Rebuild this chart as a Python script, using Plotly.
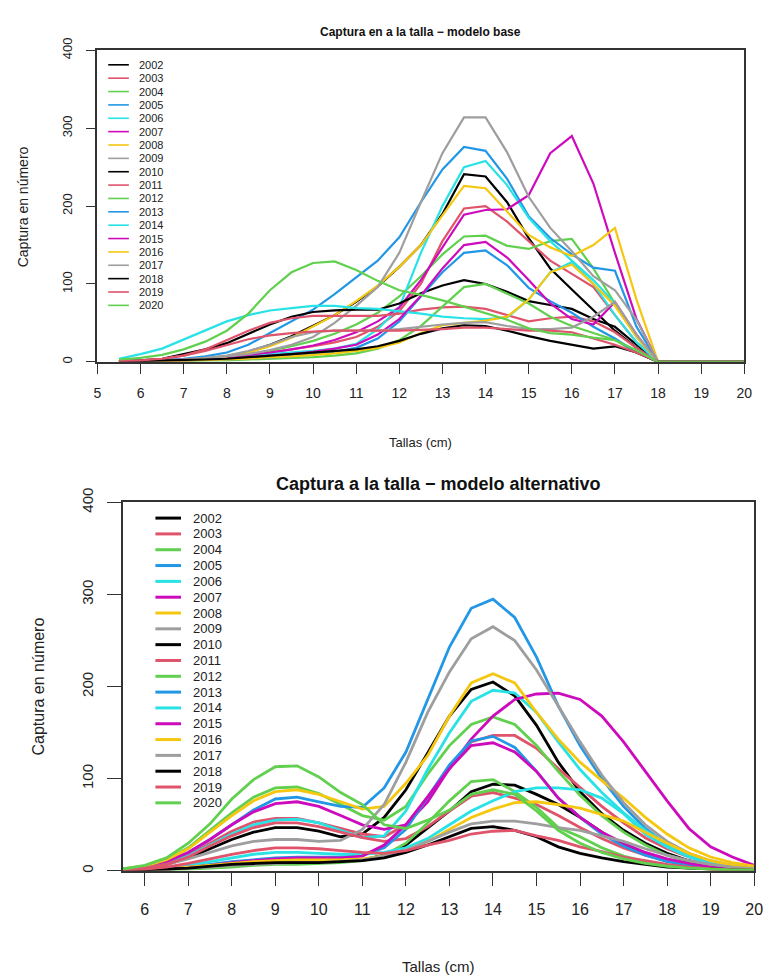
import plotly.graph_objects as go

# ---------------------------------------------------------------------------
# Data: catch-at-length by year (tallas in cm, 0.5 cm bins from 5.5 to 20)
# ---------------------------------------------------------------------------
tallas = [5.5 + 0.5 * i for i in range(30)]
years = list(range(2002, 2021))

# modelo base
base_2002 = [0.5, 1, 1.5, 2, 4, 7, 13, 22, 33, 46, 60, 77, 97, 122, 150, 190, 241, 238, 205, 159, 120, 93, 67, 40, 18, 0, 0, 0, 0, 0]
base_2003 = [1, 1, 2, 3, 4, 6, 9, 12, 16, 20, 25, 32, 45, 65, 100, 155, 197, 200, 180, 155, 130, 113, 96, 60, 25, 0, 0, 0, 0, 0]
base_2004 = [1, 1, 2, 3, 5, 7, 10, 14, 20, 27, 36, 48, 63, 84, 110, 138, 161, 162, 149, 145, 155, 158, 120, 75, 32, 0, 0, 0, 0, 0]
base_2005 = [1, 1.5, 2.5, 4, 7, 12, 22, 37, 52, 67, 87, 108, 130, 160, 205, 247, 276, 271, 235, 187, 159, 138, 121, 117, 45, 0, 0, 0, 0, 0]
base_2006 = [1, 1, 2, 3, 4, 6, 8, 10, 12, 14, 17, 23, 42, 70, 140, 200, 250, 258, 227, 185, 155, 130, 105, 75, 32, 0, 0, 0, 0, 0]
base_2007 = [1, 1, 2, 3, 4, 6, 9, 12, 16, 21, 28, 38, 52, 70, 105, 147, 189, 195, 196, 214, 268, 290, 229, 140, 55, 0, 0, 0, 0, 0]
base_2008 = [0.5, 1, 1.5, 2, 4, 7, 12, 20, 31, 45, 60, 78, 98, 122, 150, 188, 226, 223, 193, 163, 147, 136, 150, 172, 80, 0, 0, 0, 0, 0]
base_2009 = [1, 1, 2, 3, 5, 7, 10, 15, 22, 32, 50, 72, 96, 140, 205, 268, 314, 314, 269, 212, 172, 142, 110, 92, 54, 0, 0, 0, 0, 0]
base_2010 = [1, 2, 4, 10, 16, 24, 36, 48, 58, 64, 66, 67, 67, 75, 88, 98, 105, 100, 90, 78, 73, 68, 55, 45, 22, 0, 0, 0, 0, 0]
base_2011 = [1, 2, 4, 8, 16, 28, 40, 50, 56, 59, 59, 59, 59, 62, 67, 70, 71, 68, 60, 52, 56, 58, 52, 38, 18, 0, 0, 0, 0, 0]
base_2012 = [0.5, 1, 1, 1, 2, 2, 3, 4, 5, 6, 8, 11, 17, 28, 46, 71, 96, 100, 88, 75, 58, 46, 37, 28, 12, 0, 0, 0, 0, 0]
base_2013 = [0.5, 1, 1, 2, 2, 3, 4, 6, 8, 10, 13, 18, 30, 52, 84, 115, 140, 143, 124, 95, 78, 63, 45, 30, 12, 0, 0, 0, 0, 0]
base_2014 = [4, 10, 17, 29, 40, 52, 60, 66, 69, 72, 72, 69, 68, 65, 62, 58, 56, 55, 57, 80, 115, 128, 100, 60, 25, 0, 0, 0, 0, 0]
base_2015 = [1, 1, 1, 2, 3, 4, 6, 8, 10, 13, 17, 22, 35, 55, 85, 120, 150, 154, 134, 105, 75, 55, 48, 77, 35, 0, 0, 0, 0, 0]
base_2016 = [0.5, 0.5, 1, 1.5, 2, 3, 4, 6, 7, 9, 11, 14, 18, 25, 37, 47, 50, 53, 58, 80, 115, 125, 100, 72, 32, 0, 0, 0, 0, 0]
base_2017 = [0.5, 1, 2, 3, 5, 8, 14, 22, 32, 38, 40, 40, 40, 42, 45, 48, 50, 51, 46, 42, 42, 44, 58, 77, 35, 0, 0, 0, 0, 0]
base_2018 = [0.5, 1, 1.5, 2, 3, 4, 6, 8, 10, 12, 14, 16, 20, 27, 36, 43, 47, 46, 40, 33, 27, 22, 17, 20, 12, 0, 0, 0, 0, 0]
base_2019 = [1, 2, 4, 8, 14, 22, 29, 34, 37, 39, 40, 40, 40, 40, 41, 42, 44, 44, 42, 40, 40, 38, 30, 22, 12, 0, 0, 0, 0, 0]
base_2020 = [3, 5, 9, 16, 26, 40, 62, 92, 115, 127, 129, 118, 104, 92, 86, 79, 71, 63, 54, 43, 37, 35, 31, 28, 15, 0, 0, 0, 0, 0]

# modelo alternativo
alt_2002 = [1, 3, 7, 14, 24, 34, 42, 47, 47, 43, 37, 40, 58, 88, 128, 168, 197, 205, 190, 158, 118, 86, 62, 44, 30, 19, 11, 6, 3, 2]
alt_2003 = [1, 3, 8, 17, 30, 43, 53, 57, 57, 52, 46, 40, 37, 50, 80, 111, 140, 147, 147, 133, 111, 90, 70, 52, 36, 24, 15, 9, 5, 2]
alt_2004 = [2, 5, 12, 25, 44, 63, 80, 90, 91, 84, 72, 60, 55, 70, 105, 136, 159, 167, 159, 136, 108, 82, 60, 42, 28, 17, 10, 6, 3, 1]
alt_2005 = [2, 4, 10, 20, 34, 50, 66, 78, 80, 75, 70, 69, 90, 129, 186, 243, 285, 295, 275, 232, 179, 136, 100, 70, 46, 28, 16, 9, 5, 2]
alt_2006 = [1, 3, 8, 16, 28, 40, 50, 55, 56, 52, 44, 36, 38, 65, 110, 150, 184, 196, 193, 172, 140, 110, 85, 63, 44, 29, 17, 10, 5, 3]
alt_2007 = [2, 4, 10, 20, 34, 50, 64, 73, 75, 70, 60, 50, 45, 50, 75, 111, 143, 168, 186, 192, 193, 186, 168, 140, 108, 76, 46, 26, 15, 6]
alt_2008 = [2, 5, 12, 24, 42, 60, 76, 86, 88, 83, 75, 67, 70, 95, 125, 168, 204, 214, 204, 172, 143, 118, 98, 79, 58, 40, 25, 15, 9, 5]
alt_2009 = [1, 3, 7, 13, 20, 27, 32, 34, 34, 32, 33, 45, 72, 118, 172, 216, 252, 265, 250, 218, 179, 140, 104, 74, 50, 32, 19, 11, 6, 3]
alt_2010 = [0.5, 1, 2, 3, 5, 6, 8, 9, 10, 10, 10, 12, 17, 28, 46, 65, 86, 94, 93, 83, 72, 58, 42, 28, 18, 11, 6, 3, 2, 1]
alt_2011 = [1, 3, 7, 15, 27, 38, 47, 52, 52, 48, 42, 36, 32, 35, 48, 65, 81, 85, 79, 72, 60, 47, 35, 25, 17, 11, 7, 4, 2, 1]
alt_2012 = [0.5, 1, 1, 2, 3, 4, 6, 7, 7, 8, 9, 11, 17, 30, 52, 76, 97, 99, 86, 69, 47, 37, 25, 16, 10, 6, 3, 2, 1, 0.5]
alt_2013 = [0.5, 1, 2, 4, 7, 10, 12, 14, 15, 15, 15, 17, 25, 45, 80, 115, 141, 146, 134, 108, 79, 58, 40, 27, 17, 10, 6, 3, 2, 1]
alt_2014 = [0.5, 1, 3, 6, 10, 14, 18, 20, 20, 19, 18, 18, 20, 25, 35, 50, 65, 76, 86, 90, 90, 88, 79, 62, 40, 26, 15, 8, 4, 2]
alt_2015 = [0.5, 1, 2, 4, 6, 9, 11, 13, 14, 14, 14, 16, 28, 50, 80, 111, 136, 139, 129, 108, 79, 58, 42, 30, 20, 13, 8, 4, 2, 1]
alt_2016 = [0.5, 1, 2, 4, 6, 8, 10, 11, 12, 12, 12, 13, 16, 22, 32, 45, 58, 67, 74, 75, 72, 68, 61, 54, 42, 30, 19, 11, 6, 3]
alt_2017 = [0.5, 1, 2, 3, 4, 6, 7, 8, 9, 9, 10, 12, 16, 22, 32, 42, 51, 54, 54, 51, 47, 44, 38, 32, 24, 17, 11, 7, 4, 2]
alt_2018 = [0.5, 1, 2, 3, 5, 7, 8, 9, 9, 9, 10, 11, 14, 20, 28, 37, 46, 48, 44, 37, 26, 19, 14, 10, 7, 4, 3, 2, 1, 0.5]
alt_2019 = [1, 2, 4, 8, 13, 18, 22, 25, 25, 24, 22, 20, 19, 22, 28, 33, 40, 43, 44, 38, 33, 26, 21, 15, 11, 7, 4, 2, 1, 1]
alt_2020 = [2, 6, 14, 30, 51, 78, 99, 113, 114, 102, 85, 72, 50, 46, 55, 66, 83, 88, 83, 65, 44, 30, 20, 13, 8, 5, 3, 2, 1, 1]

base_series = [base_2002, base_2003, base_2004, base_2005, base_2006, base_2007, base_2008,
               base_2009, base_2010, base_2011, base_2012, base_2013, base_2014, base_2015,
               base_2016, base_2017, base_2018, base_2019, base_2020]
alt_series = [alt_2002, alt_2003, alt_2004, alt_2005, alt_2006, alt_2007, alt_2008,
              alt_2009, alt_2010, alt_2011, alt_2012, alt_2013, alt_2014, alt_2015,
              alt_2016, alt_2017, alt_2018, alt_2019, alt_2020]

base_ticks = list(range(5, 21))
alt_ticks = list(range(6, 21))
y_ticks = [0, 100, 200, 300, 400]

# R default palette, recycled over the years
palette = ["#000000", "#DF536B", "#61D04F", "#2297E6", "#28E2E5", "#CD0BBC", "#F5C710", "#9E9E9E"]
colors = [palette[i % len(palette)] for i in range(len(years))]

# ---------------------------------------------------------------------------
# Layout helpers (pixel positions on a 773 x 977 page)
# ---------------------------------------------------------------------------
W, H = 773, 977
NARROW = "Liberation Sans Narrow, Arial Narrow, Liberation Sans, Arial, sans-serif"
REGULAR = "Liberation Sans, Arial, sans-serif"
AXIS_COLOR = "#333333"


def fx(px):
    return px / W


def fy(py):
    return 1 - py / H


fig = go.Figure()

for yr, col, vals in zip(years, colors, base_series):
    fig.add_trace(go.Scatter(x=tallas, y=vals, mode="lines", name=str(yr),
                             line=dict(color=col, width=2.2), xaxis="x", yaxis="y"))

for yr, col, vals in zip(years, colors, alt_series):
    fig.add_trace(go.Scatter(x=tallas, y=vals, mode="lines", name=str(yr),
                             line=dict(color=col, width=2.8), xaxis="x2", yaxis="y2"))

common_axis = dict(showgrid=False, zeroline=False, showline=True, mirror=True,
                   linecolor=AXIS_COLOR, linewidth=1.5, ticks="outside",
                   tickcolor=AXIS_COLOR, tickwidth=1.2, fixedrange=True)

fig.update_layout(
    width=W, height=H,
    margin=dict(l=0, r=0, t=0, b=0),
    paper_bgcolor="white", plot_bgcolor="white",
    showlegend=False,
    xaxis=dict(common_axis, domain=[fx(95), fx(753)], range=[5, 20], anchor="y",
               tickvals=base_ticks, ticklen=10, ticklabelstandoff=8,
               tickfont=dict(family=NARROW, size=14, color="#222")),
    yaxis=dict(common_axis, domain=[fy(353), fy(36)], range=[0, 400], anchor="x",
               tickvals=y_ticks, ticklen=10, tickangle=-90, ticklabelstandoff=8,
               tickfont=dict(family=REGULAR, size=13, color="#222")),
    xaxis2=dict(common_axis, domain=[fx(121), fx(763)], range=[5.5, 20], anchor="y2",
                tickvals=alt_ticks, ticklen=13, ticklabelstandoff=10,
                tickfont=dict(family=NARROW, size=16, color="#222")),
    yaxis2=dict(common_axis, domain=[fy(871), fy(496)], range=[0, 400], anchor="x2",
                tickvals=y_ticks, ticklen=14, tickangle=-90, ticklabelstandoff=8,
                tickfont=dict(family=REGULAR, size=15, color="#222")),
)

annotations = [
    dict(text="<b>Captura en a la talla − modelo base</b>", x=fx(424), y=fy(17),
         font=dict(family=NARROW, size=12, color="#111")),
    dict(text="Tallas (cm)", x=fx(424), y=fy(435),
         font=dict(family=NARROW, size=13, color="#222")),
    dict(text="Captura en número", x=fx(19), y=fy(195), textangle=-90,
         font=dict(family=REGULAR, size=14, color="#222")),
    dict(text="<b>Captura a la talla − modelo alternativo</b>", x=fx(442), y=fy(477),
         font=dict(family=NARROW, size=18, color="#111")),
    dict(text="Tallas (cm)", x=fx(442), y=fy(968),
         font=dict(family=NARROW, size=15, color="#222")),
    dict(text="Captura en número", x=fx(35), y=fy(683), textangle=-90,
         font=dict(family=REGULAR, size=16, color="#222")),
]
for a in annotations:
    a.update(xref="paper", yref="paper", showarrow=False, xanchor="center", yanchor="middle")

shapes = []
# legend, modelo base
for i, (yr, col) in enumerate(zip(years, colors)):
    yy = 50.7 + 13.6 * i
    shapes.append(dict(type="line", xref="paper", yref="paper",
                       x0=fx(106), x1=fx(127), y0=fy(yy), y1=fy(yy),
                       line=dict(color=col, width=1.6)))
    annotations.append(dict(text=str(yr), xref="paper", yref="paper", x=fx(135), y=fy(yy),
                            xanchor="left", yanchor="middle", showarrow=False,
                            font=dict(family=NARROW, size=11, color="#222")))
# legend, modelo alternativo
for i, (yr, col) in enumerate(zip(years, colors)):
    yy = 512 + 16.1 * i
    shapes.append(dict(type="line", xref="paper", yref="paper",
                       x0=fx(154), x1=fx(180), y0=fy(yy), y1=fy(yy),
                       line=dict(color=col, width=3)))
    annotations.append(dict(text=str(yr), xref="paper", yref="paper", x=fx(190), y=fy(yy),
                            xanchor="left", yanchor="middle", showarrow=False,
                            font=dict(family=NARROW, size=13, color="#222")))

fig.update_layout(annotations=annotations, shapes=shapes)

fig.write_html("out.html")
